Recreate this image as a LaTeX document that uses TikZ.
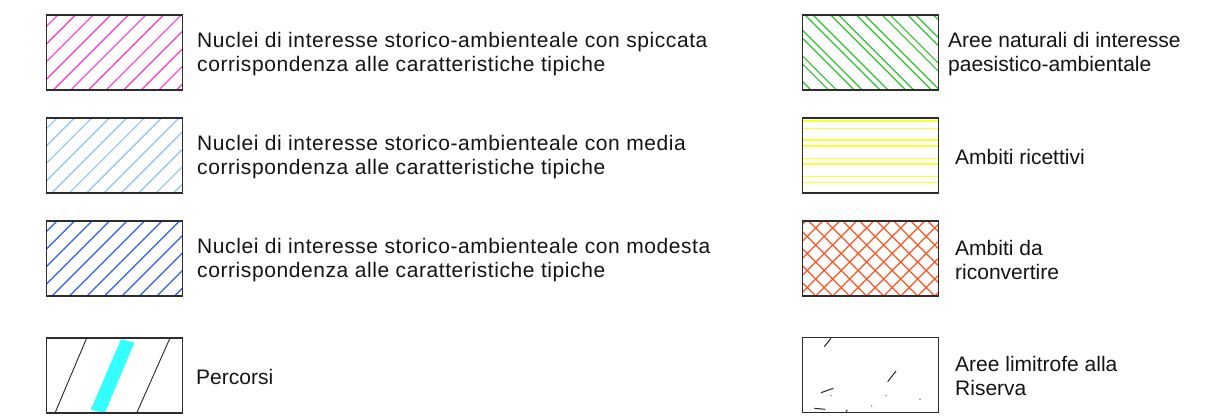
\documentclass[tikz,border=0pt]{standalone}
\usepackage{fontspec}
\setmainfont{Liberation Sans}
\newfontfamily\leftfont[LetterSpace=2.8]{Liberation Sans}
\definecolor{frame}{RGB}{45,45,45}
\definecolor{pinkh}{RGB}{255,55,205}
\definecolor{lblueh}{RGB}{140,195,250}
\definecolor{blueh}{RGB}{45,95,240}
\definecolor{greenh}{RGB}{45,195,45}
\definecolor{yellowh}{RGB}{255,255,40}
\definecolor{orangeh}{RGB}{255,85,30}
\definecolor{cyanh}{RGB}{51,255,255}
\definecolor{txt}{RGB}{20,20,20}
\tikzset{
  legbox/.style={draw=frame, line width=1.1pt, minimum width=136pt, minimum height=75pt, inner sep=0pt, outer sep=0pt},
  hatch/.style={line width=1.2pt},
  lbl/.style={anchor=west, inner sep=0pt, align=left, text=txt, font=\fontsize{21}{24.5}\selectfont},
  lbll/.style={lbl, font=\leftfont\fontsize{21}{24.5}\selectfont},
}
\begin{document}
\begin{tikzpicture}[x=1pt,y=-1pt]
\useasboundingbox[fill=white] (0,0) rectangle (1231,417);
% --- hatch fills ---
\begin{scope}
  \clip (47,15) rectangle (182,90);
  \foreach \i in {-9,...,9} \draw[hatch,pinkh] ({53.3+17.6*\i},90) -- ({128.3+17.6*\i},15);
\end{scope}
\begin{scope}
  \clip (47,118) rectangle (182,193);
  \foreach \i in {-9,...,9} \draw[hatch,lblueh] ({51.7+17.4*\i},193) -- ({126.7+17.4*\i},118);
\end{scope}
\begin{scope}
  \clip (47,221) rectangle (182,296);
  \foreach \i in {-9,...,9} \draw[hatch,blueh] ({52+17.5*\i},296) -- ({127+17.5*\i},221);
\end{scope}
\begin{scope}
  \clip (46,338) rectangle (183,413);
  \draw[line width=0.9pt,black!85] (55,413) -- (86.7,338);
  \draw[line width=0.9pt,black!85] (136.7,413) -- (170,338);
  \fill[cyanh] (121,339.3) -- (134.3,342.7) -- (105,412.7) -- (90.7,410) -- cycle;
\end{scope}
\begin{scope}
  \clip (802,15) rectangle (939,90);
  \foreach \i in {-4,...,6} {
    \draw[hatch,greenh] ({805+25.7*\i},15) -- ({880+25.7*\i},90);
    \draw[hatch,greenh] ({813+25.7*\i},15) -- ({888+25.7*\i},90);
  }
\end{scope}
\begin{scope}
  \clip (802,118) rectangle (939,193);
  \foreach \y in {121,128.3,140,146,158.3,164,176.7,182.7} \draw[line width=1.2pt,yellowh] (802,\y) -- (939,\y);
\end{scope}
\begin{scope}
  \clip (802,221) rectangle (939,296);
  \foreach \i in {-5,...,12} {
    \draw[hatch,orangeh] ({815.7+17*\i},296) -- ({890.7+17*\i},221);
    \draw[hatch,orangeh] ({815.7+17*\i},296) -- ({740.7+17*\i},221);
  }
\end{scope}
\begin{scope}[line width=1pt, black!85]
  \draw (824.3,346.7) -- (831,338.3);
  \draw (887.7,381.7) -- (896,371);
  \draw (821,392.7) -- (833.3,388.3);
  \draw (814.3,408.3) -- (825,409.3);
  \draw (846,411.7) -- (847.3,410);
  \fill (831,395.7) circle (0.6);
  \fill (886,395.7) circle (0.6);
  \fill (920,399.3) circle (0.6);
  \fill (871.7,406) circle (0.6);
\end{scope}
% --- frames ---
\node[legbox] (b1) at (114.5,52.5) {};
\node[legbox] (b2) at (114.5,155.5) {};
\node[legbox] (b3) at (114.5,258.5) {};
\node[legbox] (b4) at (114.5,375.5) {};
\node[legbox] (b5) at (870.5,52.5) {};
\node[legbox] (b6) at (870.5,155.5) {};
\node[legbox] (b7) at (870.5,258.5) {};
\node[legbox] (b8) at (870.5,375) {};
% --- labels ---
\node[lbll] (t1) at (197,54) {Nuclei di interesse storico-ambienteale con spiccata\\corrispondenza alle caratteristiche tipiche};
\node[lbll] (t2) at (197,157) {Nuclei di interesse storico-ambienteale con media\\corrispondenza alle caratteristiche tipiche};
\node[lbll] (t3) at (197,260) {Nuclei di interesse storico-ambienteale con modesta\\corrispondenza alle caratteristiche tipiche};
\node[lbl] (t4) at (196,377) {Percorsi};
\node[lbl] (t5) at (948,54) {Aree naturali di interesse\\paesistico-ambientale};
\node[lbl] (t6) at (955,157) {Ambiti ricettivi};
\node[lbl] (t7) at (955,260) {Ambiti da\\riconvertire};
\node[lbl] (t8) at (955,376) {Aree limitrofe alla\\Riserva};
\end{tikzpicture}
\end{document}
